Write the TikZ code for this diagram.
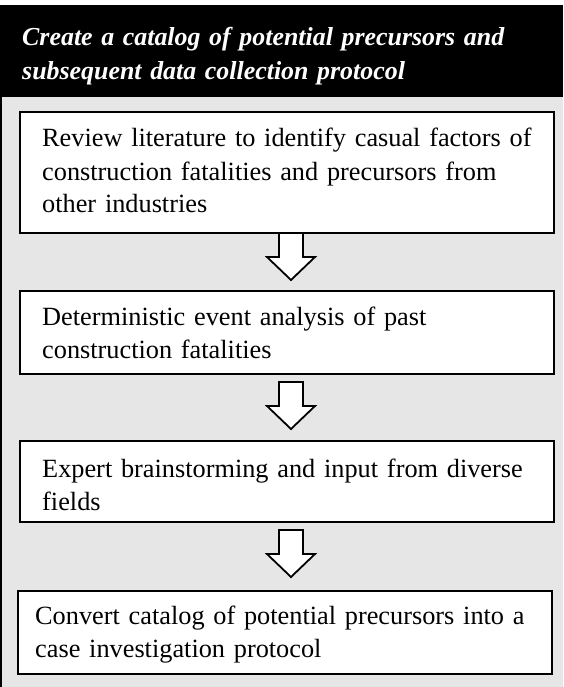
\documentclass[tikz,border=0pt]{standalone}
\usepackage{fontspec}
\setmainfont{Liberation Serif}
\usetikzlibrary{calc}
\definecolor{panelgray}{HTML}{E6E6E6}
\tikzset{
  stepbox/.style={draw=black, line width=2pt, fill=white, anchor=north west,
    inner sep=0pt, minimum width=534pt},
  steptext/.style={anchor=base west, inner sep=0pt, align=left, text width=520pt,
    font=\fontsize{26.3}{33}\selectfont},
  titletext/.style={anchor=base west, inner sep=0pt, align=left, text width=540pt,
    text=white, font=\bfseries\itshape\fontsize{25.9}{34}\selectfont},
  blockarrow/.style={draw=black, line width=1.8pt, fill=white, line join=miter},
}
\begin{document}
\begin{tikzpicture}[x=1pt, y=-1pt]
  \useasboundingbox (0,0) rectangle (563,687);
  % panel background and header band
  \fill[panelgray] (0,96) rectangle (563,687);
  \fill[black] (0,5) rectangle (563,97);
  \draw[line width=2pt] (1,96) -- (1,687);
  \node[titletext] (title) at (22,46)
    {Create a catalog of potential precursors and\\subsequent data collection protocol};

  % step boxes
  \node[stepbox, minimum height=121pt] (b1) at (19,111) {};
  \node[stepbox, minimum height=83pt] (b2) at (19,290) {};
  \node[stepbox, minimum height=81pt] (b3) at (19,440) {};
  \node[stepbox, minimum height=83pt] (b4) at (17,590) {};

  \node[steptext] (t1) at (42,147) {Review literature to identify casual factors of\\construction fatalities and precursors from\\other industries};
  \node[steptext] (t2) at (42,325) {Deterministic event analysis of past\\construction fatalities};
  \node[steptext] (t3) at (42,477) {Expert brainstorming and input from diverse\\fields};
  \node[steptext] (t4) at (35,624) {Convert catalog of potential precursors into a\\case investigation protocol};

  % hollow block arrows between the steps
  \coordinate (a1) at (291,233);
  \coordinate (a2) at (291,382);
  \coordinate (a3) at (291,530);
  \foreach \a in {a1,a2,a3}{
    \draw[blockarrow] ($(\a)+(-12,0)$) -- ++(24,0) -- ++(0,24) -- ++(12,0)
      -- ++(-24,23) -- ++(-24,-23) -- ++(12,0) -- cycle;
  }
\end{tikzpicture}
\end{document}
